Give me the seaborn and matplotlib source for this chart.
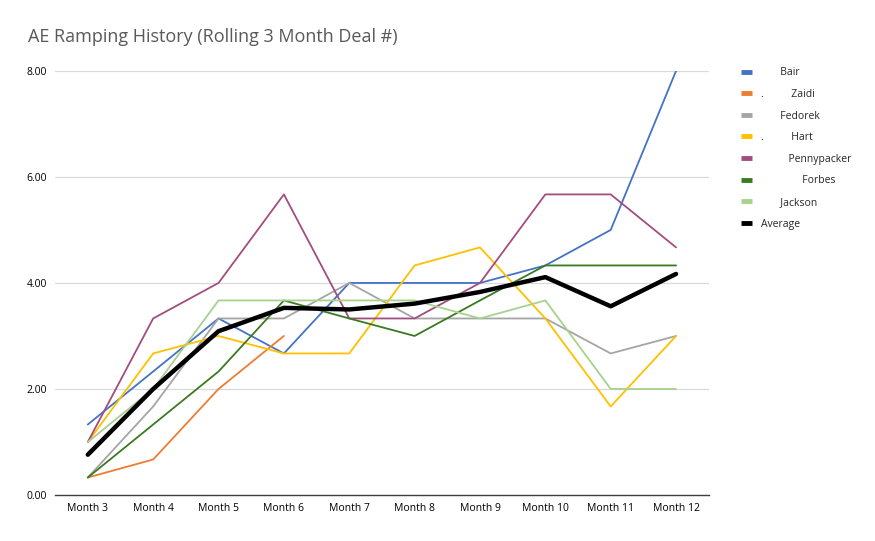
import pandas as pd
import numpy as np
import matplotlib
matplotlib.use("Agg")
import matplotlib.pyplot as plt
import seaborn as sns

months = ["Month 3", "Month 4", "Month 5", "Month 6", "Month 7",
          "Month 8", "Month 9", "Month 10", "Month 11", "Month 12"]

bair = [1.33, 2.33, 3.33, 2.67, 4.0, 4.0, 4.0, 4.33, 5.0, 8.0]
zaidi = [0.33, 0.67, 2.0, 3.0, np.nan, np.nan, np.nan, np.nan, np.nan, np.nan]
fedorek = [0.33, 1.67, 3.33, 3.33, 4.0, 3.33, 3.33, 3.33, 2.67, 3.0]
hart = [1.0, 2.67, 3.0, 2.67, 2.67, 4.33, 4.67, 3.33, 1.67, 3.0]
pennypacker = [1.0, 3.33, 4.0, 5.67, 3.33, 3.33, 4.0, 5.67, 5.67, 4.67]
forbes = [0.33, 1.33, 2.33, 3.67, 3.33, 3.0, 3.67, 4.33, 4.33, 4.33]
jackson = [1.0, 2.0, 3.67, 3.67, 3.67, 3.67, 3.33, 3.67, 2.0, 2.0]
average = [0.76, 2.0, 3.09, 3.53, 3.5, 3.61, 3.83, 4.11, 3.56, 4.17]

# legend labels keep the blank space where first names were removed
labels = ["       Bair", ".          Zaidi", "       Fedorek", ".          Hart",
          "          Pennypacker", "               Forbes", "       Jackson", "Average"]
series = [bair, zaidi, fedorek, hart, pennypacker, forbes, jackson, average]
colors = ["#4472C4", "#ED7D31", "#A5A5A5", "#FFC000",
          "#A24D7E", "#3A7A22", "#A9D18E", "#000000"]

rows = []
for lab, vals in zip(labels, series):
    for m, v in zip(months, vals):
        rows.append({"month": m, "value": v, "rep": lab})
df = pd.DataFrame(rows)

sns.set_style("white")
plt.rcParams["font.family"] = ["Open Sans", "DejaVu Sans"]

fig = plt.figure(figsize=(8.75, 5.41), dpi=100)
ax = fig.add_axes([0.063, 0.085, 0.747, 0.784])

widths = {lab: 1.3 for lab in labels}
widths["Average"] = 3.2
sns.lineplot(data=df, x="month", y="value", hue="rep", hue_order=labels,
             palette=dict(zip(labels, colors)), size="rep", sizes=widths,
             size_order=labels, estimator=None, sort=False, ax=ax, legend=False)

ax.set_xlim(-0.5, len(months) - 0.5)
ax.set_ylim(0, 8)
ax.set_yticks([0, 2, 4, 6, 8])
ax.set_yticklabels([f"{v:.2f}" for v in [0, 2, 4, 6, 8]])
ax.yaxis.grid(True, color="#D9D9D9", linewidth=0.9)
ax.set_axisbelow(True)
ax.set_xlabel("")
ax.set_ylabel("")
for s in ["top", "right", "left"]:
    ax.spines[s].set_visible(False)
ax.spines["bottom"].set_color("#404040")
ax.spines["bottom"].set_linewidth(1.0)
ax.tick_params(axis="both", length=0, labelsize=7.5, colors="#000000", pad=6)

fig.text(0.032, 0.932, "AE Ramping History (Rolling 3 Month Deal #)",
         fontsize=13, color="#595959", va="center")

handles = [plt.Line2D([], [], color=c, linewidth=3.5, solid_capstyle="butt")
           for c in colors]
fig.legend(handles, labels, loc="upper left", bbox_to_anchor=(0.836, 0.893),
           frameon=False, fontsize=7.5, handlelength=1.1, labelspacing=1.02,
           handletextpad=0.8)

fig.savefig("out.png", dpi=100)
